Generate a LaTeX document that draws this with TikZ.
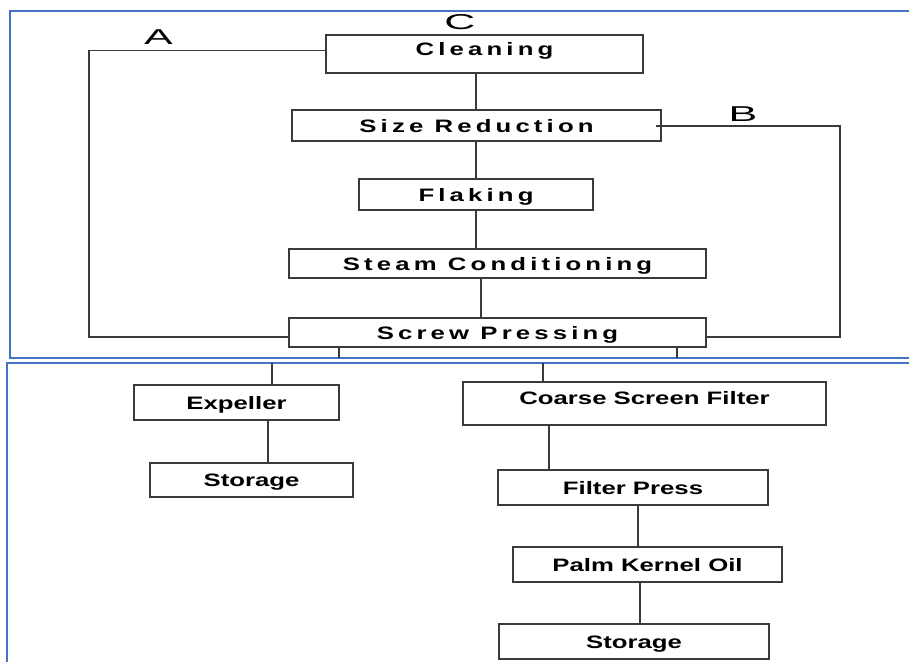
\documentclass[tikz,border=0pt]{standalone}
\usepackage{fontspec}
\setmainfont{Liberation Sans}
\newfontfamily\boxfont[FakeStretch=1.43]{Liberation Sans}
\newfontfamily\spfont[FakeStretch=1.43,LetterSpace=23]{Liberation Sans}
\newfontfamily\labfont[FakeStretch=2.0]{Liberation Sans}
\definecolor{boxgray}{HTML}{3A3A3A}
\definecolor{panelblue}{HTML}{4472C4}
\tikzset{
  pbox/.style={draw=boxgray, line width=1.3pt, rectangle, inner sep=0pt,
    text height=13pt, text depth=0pt, font=\boxfont\bfseries\fontsize{18}{20}\selectfont},
  topbox/.style={pbox, font=\spfont\bfseries\fontsize{18}{20}\selectfont},
  conn/.style={draw=boxgray, line width=1.3pt},
  panel/.style={draw=panelblue, line width=2pt},
  lab/.style={anchor=base, inner sep=0pt, font=\labfont\fontsize{21.5}{24}\selectfont}
}
\begin{document}
\begin{tikzpicture}[x=1pt,y=-1pt]
\useasboundingbox (0,0) rectangle (909,661);
% panels
\draw[panel] (912,11.5) -- (10,11.5) -- (10,358) -- (912,358);
\draw[panel] (912,363) -- (7,363) -- (7,664);
% top boxes
\node[topbox, minimum width=317pt, minimum height=38pt, text depth=10.1pt] (clean) at (484.5,54) {Cleaning};
\node[topbox, minimum width=369pt, minimum height=31pt] (size) at (476.5,125.5) {Size Reduction};
\node[topbox, minimum width=234pt, minimum height=31pt] (flake) at (476,194.5) {Flaking};
\node[topbox, minimum width=417pt, minimum height=29pt] (steam) at (497.5,263.5) {Steam Conditioning};
\node[topbox, minimum width=417pt, minimum height=29pt] (screw) at (497.5,332.5) {Screw Pressing};
% bottom boxes
\node[pbox, minimum width=205pt, minimum height=35pt] (exp) at (236.5,402.5) {Expeller};
\node[pbox, minimum width=203pt, minimum height=34pt] (sto1) at (251.5,480) {Storage};
\node[pbox, minimum width=363pt, minimum height=43pt, text depth=11.1pt] (coarse) at (644.5,403.5) {Coarse Screen Filter};
\node[pbox, minimum width=270pt, minimum height=35pt] (fpress) at (633,487.5) {Filter Press};
\node[pbox, minimum width=269pt, minimum height=35pt] (pko) at (647.5,564.5) {Palm Kernel Oil};
\node[pbox, minimum width=270pt, minimum height=35pt] (sto2) at (634,641.5) {Storage};
% labels
\node[lab] (labA) at (158.5,45) {A};
\node[lab] (labC) at (460,30) {C};
\node[lab] (labB) at (743,121) {B};
% free ends
\coordinate (d1) at (339,358);
\coordinate (d2) at (677,358);
\coordinate (u1) at (272,363);
\coordinate (u2) at (543,363);
% connectors top
\draw[conn] (476,0 |- clean.south) -- (476,0 |- size.north);
\draw[conn] (476,0 |- size.south) -- (476,0 |- flake.north);
\draw[conn] (476,0 |- flake.south) -- (476,0 |- steam.north);
\draw[conn] (481,0 |- steam.south) -- (481,0 |- screw.north);
\draw[conn] (clean.west |- 0,50.5) -- (89,50.5) -- (89,337) -- (screw.west |- 0,337);
\draw[conn] ([xshift=-6pt]size.east |- 0,126) -- (840,126) -- (840,337) -- (screw.east |- 0,337);
\draw[conn] (d1 |- screw.south) -- (d1);
\draw[conn] (d2 |- screw.south) -- (d2);
% connectors bottom
\draw[conn] (u1) -- (u1 |- exp.north);
\draw[conn] (u2) -- (u2 |- coarse.north);
\draw[conn] (268,0 |- exp.south) -- (268,0 |- sto1.north);
\draw[conn] (549,0 |- coarse.south) -- (549,0 |- fpress.north);
\draw[conn] (638,0 |- fpress.south) -- (638,0 |- pko.north);
\draw[conn] (640,0 |- pko.south) -- (640,0 |- sto2.north);
\end{tikzpicture}
\end{document}
